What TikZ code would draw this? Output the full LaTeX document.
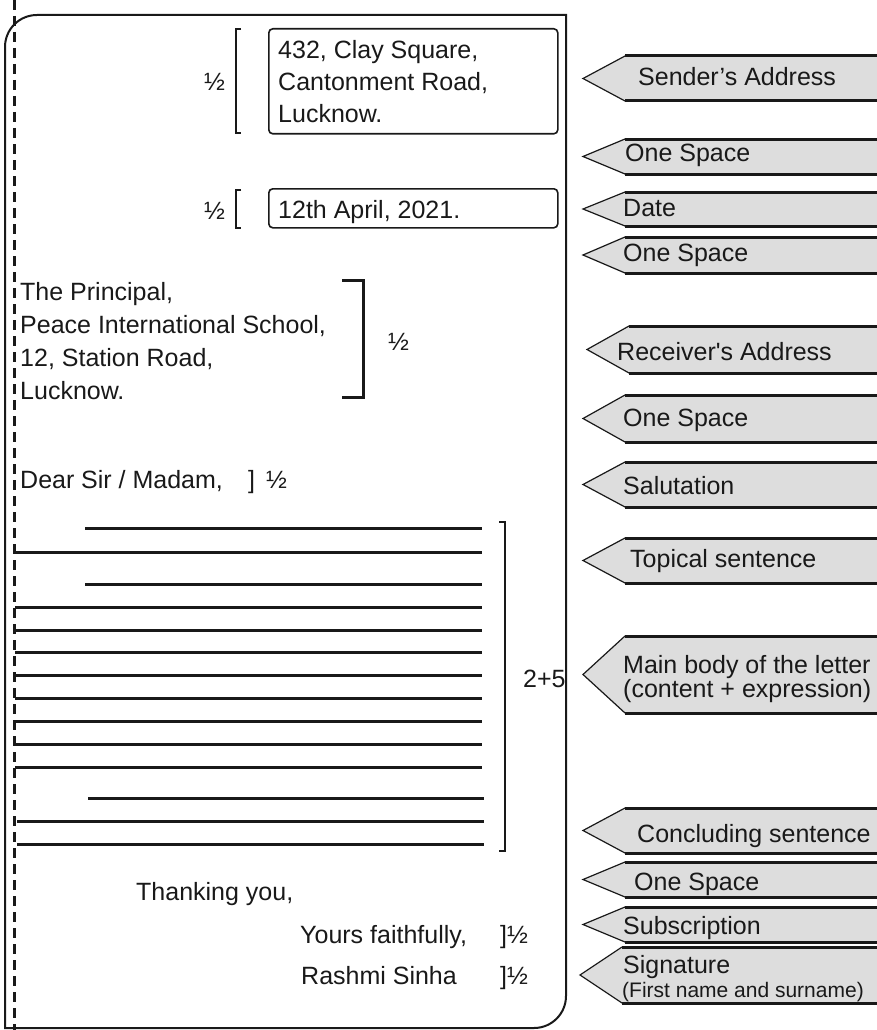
\documentclass[tikz,border=0pt]{standalone}
\usepackage{fontspec}
\setmainfont{Liberation Sans}
\definecolor{labfill}{RGB}{221,221,221}
\definecolor{ink}{RGB}{25,25,25}
\newcommand\arrowlab[3]{%
  \fill[labfill] (#1,{(#2+#3)/2}) -- (#1+42,#2) -- (877,#2) -- (877,#3) -- (#1+42,#3) -- cycle;
  \draw[labslant] (#1+42,#2) -- (#1,{(#2+#3)/2}) -- (#1+42,#3);
  \draw[labedge] (#1+42,#2) -- (877,#2);
  \draw[labedge] (#1+42,#3) -- (877,#3);
}
\begin{document}
\begin{tikzpicture}[x=1pt,y=-1pt,
  txt/.style={inner sep=0pt,anchor=base west,text=ink,font=\fontsize{25}{25}\selectfont},
  smalltxt/.style={inner sep=0pt,anchor=base west,text=ink,font=\fontsize{21}{21}\selectfont},
  labedge/.style={draw=ink,line width=3pt},
  labslant/.style={draw=ink,line width=1.2pt},
  rulel/.style={draw=ink,line width=3pt},
  brk/.style={draw=ink,line width=2pt},
  boxed/.style={draw=ink,line width=1.6pt,rounded corners=4pt,inner sep=0pt,anchor=north west,minimum width=289pt}]
\useasboundingbox (0,0) rectangle (877,1030);

% letter border
\draw[draw=ink,line width=2pt] (566,15) -- (37,15) .. controls (19.3,15) and (5,29.3) .. (5,47)
  -- (5,1028) -- (534,1028) .. controls (551.7,1028) and (566,1013.7) .. (566,996) -- cycle;
% margin line
\draw[draw=ink,line width=3pt,dash pattern=on 10pt off 6pt] (14,0) -- (14,1030);

% sender address
\node[boxed,minimum height=105pt] (sbox) at (268,28) {};
\node[txt] (s1) at (278,59) {432, Clay Square,};
\node[txt] (s2) at (278,90.5) {Cantonment Road,};
\node[txt] (s3) at (278,122) {Lucknow.};
\draw[brk] (241,29) -- (236,29) -- (236,133) -- (241,133);
\node[txt] (sh) at (204,91) {½};

% date
\node[boxed,minimum height=39pt] (dbox) at (268,188) {};
\node[txt] (d1) at (278,218) {12th April, 2021.};
\draw[brk] (241,190) -- (236,190) -- (236,228) -- (241,228);
\node[txt] (dh) at (204,219) {½};

% receiver
\node[txt] (r1) at (20,300) {The Principal,};
\node[txt] (r2) at (20,333) {Peace International School,};
\node[txt] (r3) at (20,366) {12, Station Road,};
\node[txt] (r4) at (20,399) {Lucknow.};
\draw[draw=ink,line width=3pt] (342,280) -- (363,280) -- (363,397) -- (342,397);
\node[txt] (rh) at (388,350) {½};

% salutation
\node[txt] (dear) at (20,488) {Dear};
\node[txt] (sir) at (81,488) {Sir / Madam,};
\node[txt] (salb) at (248,488) {]};
\node[txt] (salh) at (266,488) {½};

% body lines
\foreach \y/\x/\e in {528/85/482, 552/15/482, 584/85/482, 607/15/482, 630/15/482, 652/15/482,
  675/15/482, 698/15/482, 721/15/482, 744/15/482, 767/15/482, 798/88/484, 821/17/484, 844/17/484}
  \draw[rulel] (\x,\y) -- (\e,\y);
\draw[brk,line width=1.8pt] (499,522) -- (505,522) -- (505,851) -- (499,851);
\node[txt] (bm) at (523,687) {2+5};

% closing
\node[txt] (thank) at (136,900) {Thanking you,};
\node[txt] (yours) at (300,943) {Yours faithfully,};
\node[txt] (yh) at (500,943) {]½};
\node[txt] (name) at (301,984) {Rashmi Sinha};
\node[txt] (nh) at (500,984) {]½};

% labels
\arrowlab{583}{56}{101}
\node[txt] (l1) at (638,86) {Sender’s Address};
\arrowlab{583}{139}{174}
\node[txt] (l2) at (625,161) {One Space};
\arrowlab{583}{192}{226}
\node[txt] (l3) at (623,216) {Date};
\arrowlab{583}{237}{273}
\node[txt] (l4) at (623,261) {One Space};
\arrowlab{587}{326}{373}
\node[txt] (l5) at (617,360) {Receiver\textquotesingle s Address};
\arrowlab{583}{395}{442}
\node[txt] (l6) at (623,426) {One Space};
\arrowlab{583}{462}{507}
\node[txt] (l7) at (623,494) {Salutation};
\arrowlab{583}{538}{583}
\node[txt] (l8) at (630,567) {Topical sentence};
\arrowlab{583}{636}{713}
\node[txt] (l9a) at (623,673) {Main body of the letter};
\node[txt] (l9b) at (623,697) {(content + expression)};
\arrowlab{583}{808}{853}
\node[txt] (l10) at (637,842) {Concluding sentence};
\arrowlab{583}{862}{897}
\node[txt] (l11) at (634,890) {One Space};
\arrowlab{583}{907}{942}
\node[txt] (l12) at (623,934) {Subscription};
\arrowlab{580}{947}{1003}
\node[txt] (l13a) at (623,973) {Signature};
\node[smalltxt] (l13b) at (622,997) {(First name and surname)};
\end{tikzpicture}
\end{document}
